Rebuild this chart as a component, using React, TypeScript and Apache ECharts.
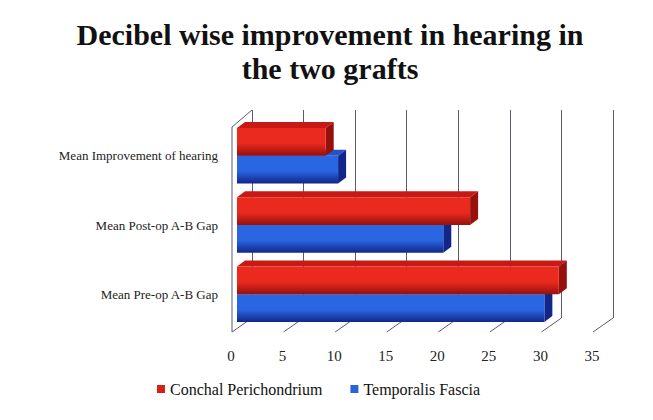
import React, { useEffect, useRef } from "react";
import * as echarts from "echarts";

const categories = ["Mean Pre-op A-B Gap", "Mean Post-op A-B Gap", "Mean Improvement of hearing"];
const conchal = [31.2, 22.6, 8.6];
const temporalis = [29.8, 20.0, 9.8];
const xTicks = [0, 5, 10, 15, 20, 25, 30, 35];
const seriesNames = ["Conchal Perichondrium", "Temporalis Fascia"];

const SERIF = "Liberation Serif";
const DX = -15;
const DY = 11;
const DEPTH = [8, -6];

const makeBar = (isTop: boolean, front: string, topC: string, side: string) =>
  (params: any, api: any) => {
    const v = api.value(0);
    const ci = api.value(1);
    const p0 = api.coord([0, ci]);
    const p1 = api.coord([v, ci]);
    const band = api.size([0, 1])[1];
    const h = band * 0.4;
    const cy = p0[1] + DY;
    const top = isTop ? cy - h : cy;
    const bottom = top + h;
    const x0 = p0[0] + DX;
    const x1 = p1[0] + DX;
    const [ddx, ddy] = DEPTH;
    return {
      type: "group",
      children: [
        {
          type: "polygon",
          shape: { points: [[x0, top], [x1, top], [x1 + ddx, top + ddy], [x0 + ddx, top + ddy]] },
          style: { fill: topC },
        },
        {
          type: "polygon",
          shape: { points: [[x1, top], [x1 + ddx, top + ddy], [x1 + ddx, bottom + ddy], [x1, bottom]] },
          style: { fill: side },
        },
        {
          type: "rect",
          shape: { x: x0, y: top, width: x1 - x0, height: h },
          style: {
            fill: new echarts.graphic.LinearGradient(0, 0, 0, 1, [
              { offset: 0, color: front },
              { offset: 0.55, color: front },
              { offset: 1, color: side },
            ]),
          },
        },
      ],
    };
  };

const wallRender = (params: any, api: any) => {
  const cs = params.coordSys;
  const yb = cs.y + cs.height;
  const yt = cs.y;
  const lineStyle = { stroke: "#5e5874", lineWidth: 1 };
  const children: any[] = [];
  xTicks.forEach((t) => {
    const p = api.coord([t, 0]);
    children.push({
      type: "line",
      shape: { x1: p[0], y1: yb, x2: p[0] - 20, y2: yb + 14 },
      style: lineStyle,
    });
  });
  const p0 = api.coord([0, 0]);
  children.push({
    type: "line",
    shape: { x1: p0[0] - 20, y1: yt + 17, x2: p0[0] - 20, y2: yb + 14 },
    style: lineStyle,
  });
  children.push({
    type: "line",
    shape: { x1: p0[0] - 20, y1: yt + 17, x2: p0[0], y2: yt },
    style: lineStyle,
  });
  return { type: "group", children };
};

export default function App() {
  const ref = useRef<HTMLDivElement>(null);
  useEffect(() => {
    if (!ref.current) return;
    const chart = echarts.init(ref.current, null, { renderer: "svg" });
    chart.setOption({
      animation: false,
      backgroundColor: "#ffffff",
      title: {
        text: "Decibel wise improvement in hearing in\nthe two grafts",
        left: 317,
        textAlign: "center",
        top: 4,
        textStyle: {
          fontFamily: SERIF,
          fontSize: 30,
          fontWeight: "bold",
          color: "#111",
          lineHeight: 34,
        },
      },
      legend: {
        data: seriesNames,
        left: 144,
        top: 368,
        itemWidth: 8,
        itemHeight: 8,
        itemGap: 28,
        icon: "rect",
        textStyle: { fontFamily: SERIF, fontSize: 16, color: "#111" },
      },
      grid: { left: 244, right: 40, top: 102, bottom: 94 },
      xAxis: {
        type: "value",
        min: 0,
        max: 35,
        interval: 5,
        axisLine: { show: false },
        axisTick: { show: false },
        splitLine: { show: true, lineStyle: { color: "#5e5874", width: 1 } },
        axisLabel: {
          fontFamily: SERIF,
          fontSize: 15,
          color: "#222",
          margin: 30,
          padding: [0, 42, 0, 0],
        },
      },
      yAxis: {
        type: "category",
        data: categories,
        axisLine: { show: false },
        axisTick: { show: false },
        splitLine: { show: false },
        axisLabel: {
          fontFamily: SERIF,
          fontSize: 13,
          color: "#222",
          margin: 34,
          verticalAlign: "top",
          lineHeight: 22,
        },
      },
      series: [
        {
          type: "custom",
          name: "walls",
          z: 1,
          silent: true,
          renderItem: wallRender,
          data: [[0, 0]],
          encode: { x: 0, y: 1 },
        },
        {
          type: "custom",
          name: seriesNames[1],
          z: 2,
          itemStyle: { color: "#2a62dc" },
          renderItem: makeBar(false, "#2a66e2", "#2454c4", "#12268a"),
          data: categories.map((_, i) => [temporalis[i], i]),
          encode: { x: 0, y: 1 },
        },
        {
          type: "custom",
          name: seriesNames[0],
          z: 3,
          itemStyle: { color: "#d8201a" },
          renderItem: makeBar(true, "#ea2a1e", "#c81a14", "#96100c"),
          data: categories.map((_, i) => [conchal[i], i]),
          encode: { x: 0, y: 1 },
        },
      ],
    });
    return () => chart.dispose();
  }, []);
  return <div ref={ref} style={{ width: 645, height: 404 }} />;
}
